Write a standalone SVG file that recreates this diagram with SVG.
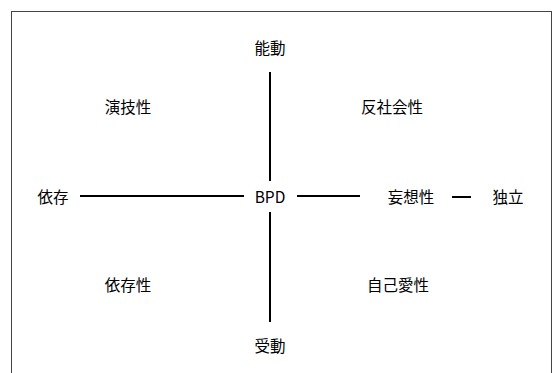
<svg xmlns="http://www.w3.org/2000/svg" width="556" height="373" viewBox="0 0 556 373">
<style>
text{font-family:"Noto Sans CJK JP","Noto Sans",sans-serif;font-size:15.5px;fill:#000;text-anchor:middle;dominant-baseline:central}
.c line{stroke:#000;stroke-width:2}
</style>
<rect width="556" height="373" fill="#fff"/>
<rect x="11.5" y="11.5" width="540" height="380" fill="none" stroke="#444" stroke-width="1"/>
<g class="c" id="connectors">
<line x1="270" y1="72" x2="270" y2="181"/>
<line x1="270" y1="212" x2="270" y2="322"/>
<line x1="80" y1="196" x2="244" y2="196"/>
<line x1="297" y1="196" x2="360" y2="196"/>
<line x1="452" y1="197" x2="471" y2="197"/>
</g>
<g id="n-active"><text x="270" y="47">能動</text></g>
<g id="n-histrionic"><text x="128" y="106">演技性</text></g>
<g id="n-antisocial"><text x="392" y="106">反社会性</text></g>
<g id="n-dependence"><text x="53" y="196">依存</text></g>
<g id="n-bpd"><text x="270" y="196">BPD</text></g>
<g id="n-paranoid"><text x="411" y="196">妄想性</text></g>
<g id="n-independent"><text x="508" y="196">独立</text></g>
<g id="n-dependent"><text x="128" y="284">依存性</text></g>
<g id="n-narcissistic"><text x="398" y="284">自己愛性</text></g>
<g id="n-passive"><text x="270" y="345">受動</text></g>
</svg>
